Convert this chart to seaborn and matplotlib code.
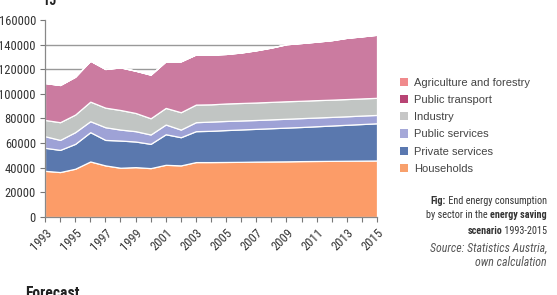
import os
import numpy as np
import matplotlib
matplotlib.use('Agg')
import matplotlib.pyplot as plt
from matplotlib.patches import Patch
from matplotlib import font_manager as fm
import seaborn as sns

sns.set_theme(style='white')
plt.rcParams['font.family'] = ['Liberation Sans', 'DejaVu Sans']

# data (TJ)
years = list(range(1993, 2016))
households = [37500, 36500, 39200, 45100, 41900, 40000, 40500, 39700, 42400, 41900, 44600, 44600,
              44700, 44800, 45000, 45100, 45200, 45400, 45500, 45600, 45700, 45800, 45900]
private_services = [18700, 18000, 20200, 23800, 20700, 22100, 20800, 19700, 24800, 22900, 25100, 25400,
                    25900, 26300, 26600, 27000, 27400, 27700, 28200, 28700, 29200, 29700, 30200]
public_services = [9400, 8100, 9500, 8900, 10300, 8900, 8400, 7600, 7900, 6200, 7300, 7500,
                   7400, 7300, 7200, 7200, 7200, 7200, 7100, 7000, 6900, 6900, 6800]
industry = [13200, 14400, 14300, 15900, 15900, 15900, 14800, 13200, 13500, 14100, 14300, 14000,
            14200, 14200, 14200, 14200, 14200, 14100, 14100, 14000, 14000, 13900, 13900]
public_transport = [30000, 30200, 30700, 33200, 31400, 34600, 34300, 35400, 37800, 41300, 40700, 40300,
                    40200, 41000, 42400, 44100, 46300, 46900, 47500, 48300, 49700, 50400, 51200]
agriculture = [0] * len(years)

sectors = ['Households', 'Private services', 'Public services', 'Industry',
           'Public transport', 'Agriculture and forestry']
series = [households, private_services, public_services, industry, public_transport, agriculture]
area_colors = ['#fc9c68', '#5a78ae', '#9ea2d6', '#c1c5c3', '#cb7ba0', '#f08a8c']
legend_colors = ['#f8a06c', '#5a78b0', '#a5a8d8', '#c6c6c6', '#b84474', '#f08a8c']


# look for a condensed sans face (the original uses a narrow font)
def find_narrow(kind):
    prefs = ['LiberationSansNarrow', 'RobotoCondensed', 'NotoSans-Condensed',
             'OpenSansCondensed', 'DejaVuSansCondensed']
    want = {'regular': ('', 'regular', 'book'), 'bold': ('bold',), 'italic': ('italic', 'oblique')}[kind]
    files = [f.fname for f in fm.fontManager.ttflist]
    for p in prefs:
        for fn in files:
            base = os.path.basename(fn)
            if not base.startswith(p):
                continue
            rest = os.path.splitext(base[len(p):])[0].lower().replace('-', '').replace('_', '')
            if rest in want:
                return fn
    return None


def narrow_fp(kind):
    fn = find_narrow(kind)
    if fn:
        return fm.FontProperties(fname=fn)
    return fm.FontProperties(family='Liberation Sans',
                             weight='bold' if kind == 'bold' else 'normal',
                             style='italic' if kind == 'italic' else 'normal')


fp_reg = narrow_fp('regular')
fp_bold = narrow_fp('bold')
fp_ital = narrow_fp('italic')
fp_leg = fm.FontProperties(family='Liberation Sans')

W, H = 557, 295
fig = plt.figure(figsize=(W / 100, H / 100), dpi=100)
renderer = fig.canvas.get_renderer()


def fit(parts, target_px):
    # font size that gives the text the width seen in the reference
    w = 0
    for fp, text in parts:
        f = fp.copy()
        f.set_size(10)
        t = fig.text(0, 0, text, fontproperties=f)
        w += t.get_window_extent(renderer).width
        t.remove()
    return 10 * target_px / w


tick_size = fit([(fp_reg, '160000')], 36.5)
cap_size = fit([(fp_reg, 'by sector in the '), (fp_bold, 'energy saving')], 120)
src_size = fit([(fp_ital, 'Source: Statistics Austria,')], 117)
fc_size = fit([(fp_bold, 'Forecast')], 54)
leg_size = fit([(fp_leg, 'Agriculture and forestry')], 116)

ax = fig.add_axes([45 / W, 1 - 217 / H, (377 - 45) / W, (217 - 20) / H])

ax.stackplot(years, *series, colors=area_colors, edgecolor='white', linewidth=0.9)

ax.set_xlim(1993, 2015)
ax.set_ylim(0, 160000)
ax.set_yticks(np.arange(0, 160001, 20000))
ax.set_xticks(years[::2])
ax.set_xticks(years, minor=True)
ax.set_xticklabels([str(y) for y in years[::2]], rotation=45, ha='right', rotation_mode='anchor')
ax.tick_params(axis='both', which='both', direction='out', length=3.5, width=0.8,
               color='#777777', labelcolor='#333333', pad=3)
ax.tick_params(axis='x', which='both', bottom=True)
ax.tick_params(axis='y', left=True)
tick_fp = fp_reg.copy()
tick_fp.set_size(tick_size)
for lab in ax.get_xticklabels() + ax.get_yticklabels():
    lab.set_fontproperties(tick_fp)

for v in range(20000, 160000, 20000):
    ax.axhline(v, color='#999999', lw=1, zorder=0)
ax.set_axisbelow(True)
for s in ['top', 'right']:
    ax.spines[s].set_visible(False)
for s in ['left', 'bottom']:
    ax.spines[s].set_color('#888888')
    ax.spines[s].set_linewidth(0.9)

fig.text(43 / W, 1 - 1 / H, 'TJ', fontproperties=fp_bold, fontsize=tick_size + 1,
         color='#222222', ha='left', va='center')
fig.text(25 / W, 1 - 286 / H, 'Forecast', fontproperties=fp_bold, fontsize=fc_size,
         color='#222222', ha='left', va='top')

# legend, top entry first
handles = [Patch(facecolor=c, edgecolor='none') for c in legend_colors[::-1]]
leg_fp = fp_leg.copy()
leg_fp.set_size(leg_size)
leg = fig.legend(handles, sectors[::-1], loc='upper left', bbox_to_anchor=(400 / W, 1 - 78 / H),
                 frameon=False, prop=leg_fp, handlelength=0.75, handleheight=0.75,
                 handletextpad=0.5, labelspacing=0.64, borderpad=0, borderaxespad=0)
for t in leg.get_texts():
    t.set_color('#444444')


# caption with mixed weights, right aligned
def rich_line(y_px, parts, size, color='#333333'):
    x = 547 / W
    for txt, fp in reversed(parts):
        f = fp.copy()
        f.set_size(size)
        t = fig.text(x, 1 - y_px / H, txt, fontproperties=f,
                     color=color, ha='right', va='center')
        x -= t.get_window_extent(renderer).width / W


rich_line(200.5, [('Fig:', fp_bold), (' End energy consumption', fp_reg)], cap_size)
rich_line(215.5, [('by sector in the ', fp_reg), ('energy saving', fp_bold)], cap_size)
rich_line(230.5, [('scenario', fp_bold), (' 1993-2015', fp_reg)], cap_size)
rich_line(248, [('Source: Statistics Austria,', fp_ital)], src_size, color='#555555')
rich_line(263, [('own calculation', fp_ital)], src_size, color='#555555')

fig.savefig('out.png', dpi=100)
